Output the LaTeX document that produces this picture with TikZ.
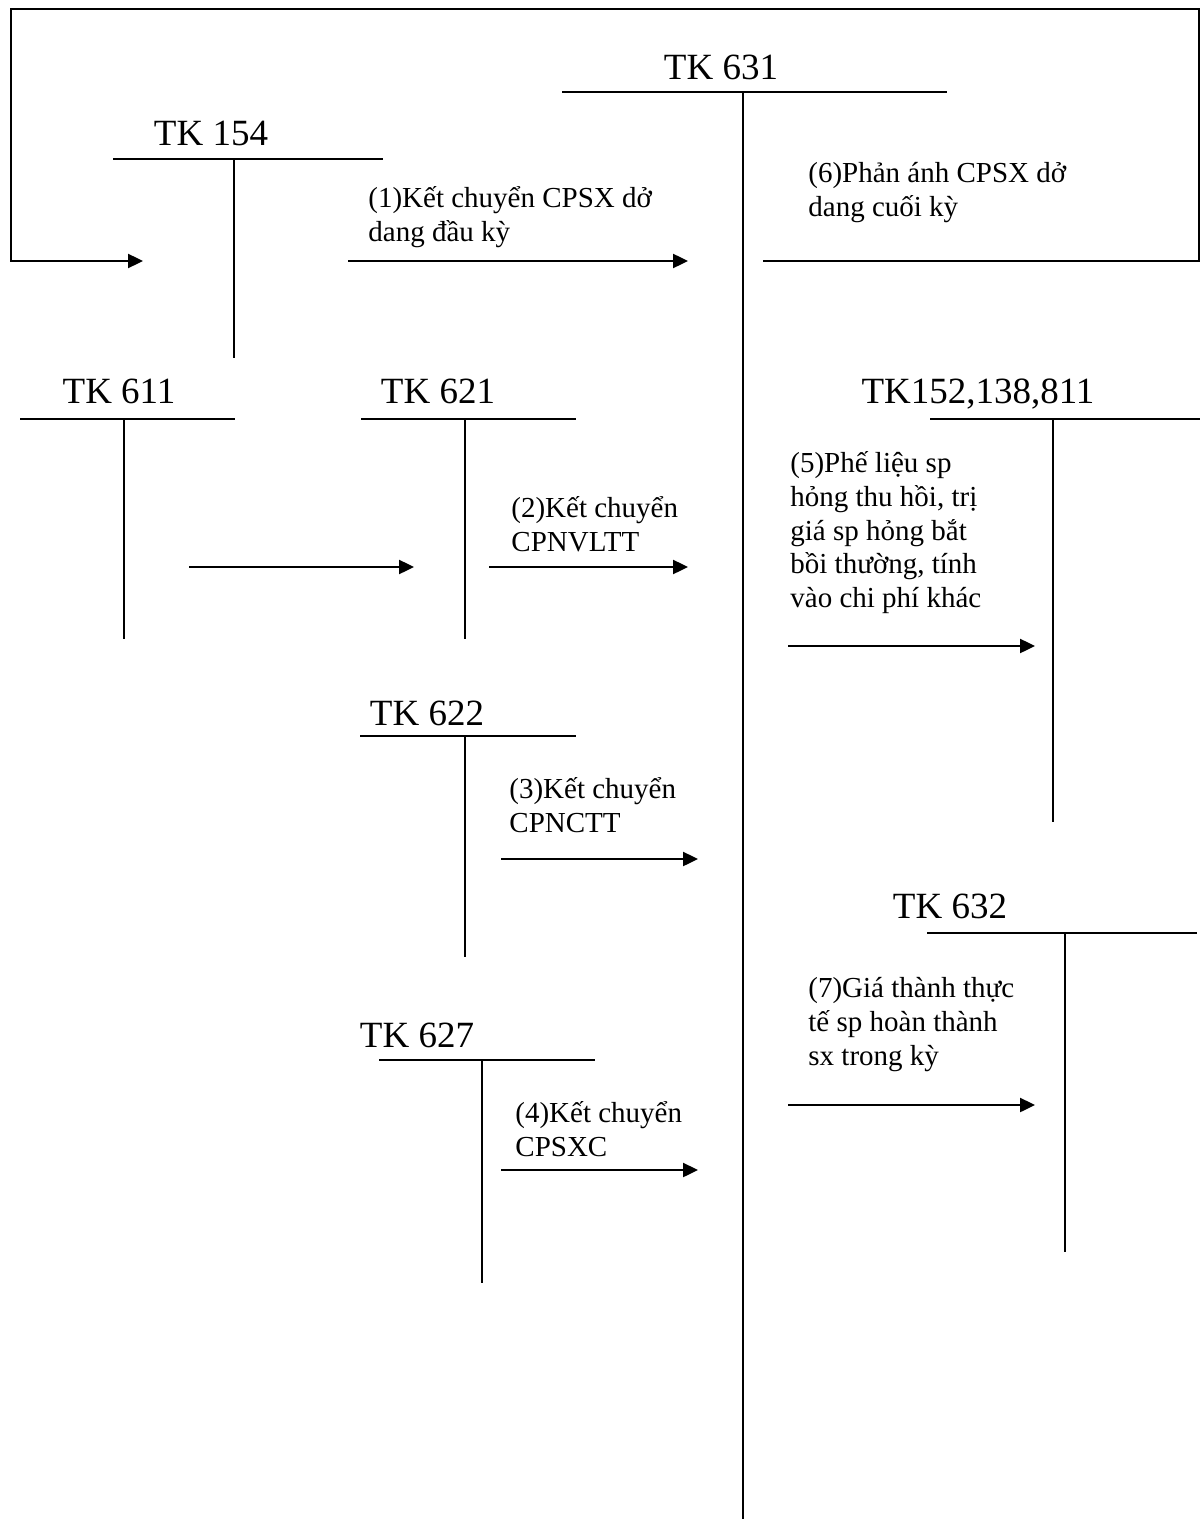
\documentclass[tikz,border=0pt]{standalone}
\usepackage{fontspec}
\setmainfont{Liberation Serif}
\usetikzlibrary{arrows.meta}

% T-account: #1 name, #2 bar left x, #3 bar right x, #4 bar y,
% #5 stem x, #6 stem bottom y, #7 title centre x, #8 title baseline y, #9 title
\newcommand{\TAcct}[9]{%
  \coordinate (#1-l) at (#2,#4);
  \coordinate (#1-r) at (#3,#4);
  \coordinate (#1-t) at (#5,#4);
  \coordinate (#1-b) at (#5,#6);
  \node[acct] (#1-name) at (#7,#8) {#9};
  \draw[tline] (#1-l) -- (#1-r);
  \draw[tline] (#1-t) -- (#1-b);
}

\begin{document}
\begin{tikzpicture}[x=0.5pt,y=-0.5pt,
  tline/.style={line width=1pt},
  flow/.style={line width=1.2pt,-{Triangle[length=7.5pt,width=7pt]}},
  acct/.style={font=\fontsize{18.5}{22}\selectfont, anchor=base, inner sep=0pt},
  note/.style={font=\fontsize{14.5}{16.9}\selectfont, anchor=north west,
               inner sep=0pt, align=left},
]
\useasboundingbox (0,0) rectangle (1200,1519);

% accounts
\TAcct{k631}{562}{947}{92}{743}{1519}{721}{80}{TK 631}
\TAcct{k154}{113}{383}{159}{234}{358}{211}{146}{TK 154}
\TAcct{k611}{20}{235}{419}{124}{639}{119}{403}{TK 611}
\TAcct{k621}{361}{576}{419}{465}{639}{438}{403}{TK 621}
\TAcct{k622}{360}{576}{736}{465}{957}{427}{725}{TK 622}
\TAcct{k627}{379}{595}{1060}{482}{1283}{417}{1047}{TK 627}
\TAcct{k152}{930}{1200}{419}{1053}{822}{978}{403}{TK152,138,811}
\TAcct{k632}{927}{1197}{933}{1065}{1252}{950}{918}{TK 632}

% (6) closing balance carried back to TK 154
\coordinate (r6a) at (763,261);
\coordinate (r6b) at (1199,261);
\coordinate (r6c) at (1199,9);
\coordinate (r6d) at (11,9);
\coordinate (r6e) at (11,261);
\coordinate (r6f) at (143,261);
\draw[flow] (r6a) -- (r6b) -- (r6c) -- (r6d) -- (r6e) -- (r6f);
\node[note] (n6) at (808,182-23.6) {\strut(6)Phản ánh CPSX dở\\dang cuối kỳ};

% (1)
\coordinate (a1s) at (348,261);
\coordinate (a1e) at (688,261);
\draw[flow] (a1s) -- (a1e);
\node[note] (n1) at (368,207-23.6) {\strut(1)Kết chuyển CPSX dở\\dang đầu kỳ};

% TK 611 -> TK 621
\coordinate (a0s) at (189,567);
\coordinate (a0e) at (414,567);
\draw[flow] (a0s) -- (a0e);

% (2)
\coordinate (a2s) at (489,567);
\coordinate (a2e) at (688,567);
\draw[flow] (a2s) -- (a2e);
\node[note] (n2) at (511,517-23.6) {\strut(2)Kết chuyển\\CPNVLTT};

% (3)
\coordinate (a3s) at (501,859);
\coordinate (a3e) at (698,859);
\draw[flow] (a3s) -- (a3e);
\node[note] (n3) at (509,798-23.6) {\strut(3)Kết chuyển\\CPNCTT};

% (4)
\coordinate (a4s) at (501,1170);
\coordinate (a4e) at (698,1170);
\draw[flow] (a4s) -- (a4e);
\node[note] (n4) at (515,1122-23.6) {\strut(4)Kết chuyển\\CPSXC};

% (5)
\coordinate (a5s) at (788,646);
\coordinate (a5e) at (1035,646);
\draw[flow] (a5s) -- (a5e);
\node[note] (n5) at (790,472-23.6)
  {\strut(5)Phế liệu sp\\hỏng thu hồi, trị\\giá sp hỏng bắt\\bồi thường, tính\\vào chi phí khác};

% (7)
\coordinate (a7s) at (788,1105);
\coordinate (a7e) at (1035,1105);
\draw[flow] (a7s) -- (a7e);
\node[note] (n7) at (808,997-23.6)
  {\strut(7)Giá thành thực\\tế sp hoàn thành\\sx trong kỳ};
\end{tikzpicture}
\end{document}
